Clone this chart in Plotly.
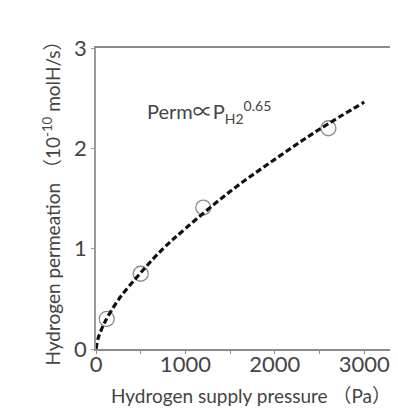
import plotly.graph_objects as go

# measured data points
pressure_pa = [120, 500, 1200, 2600]
permeation = [0.30, 0.75, 1.41, 2.20]

# dashed fit curve (Perm ∝ P^0.65)
fit_pressure = [0, 25, 50, 100, 250, 500, 750, 1000, 1500, 2000, 2500, 3000]
fit_perm = [0.0, 0.11, 0.17, 0.27, 0.49, 0.76, 1.00, 1.20, 1.57, 1.89, 2.19, 2.46]

x_tick_vals = [0, 1000, 2000, 3000]
x_tick_text = ["0", "1000", "2000", "3000"]
y_tick_vals = [0, 1, 2, 3]

FONT = "Lato, 'Noto Sans CJK JP', sans-serif"
TXT = "#444444"

fig = go.Figure()
fig.add_trace(go.Scatter(
    x=pressure_pa, y=permeation, mode="markers",
    marker=dict(symbol="circle-open", size=15, color="#8a8a8a", line=dict(width=1.3)),
    showlegend=False, cliponaxis=False,
))
fig.add_trace(go.Scatter(
    x=fit_pressure, y=fit_perm, mode="lines", line_shape="spline",
    line=dict(color="#111111", width=3.2, dash="6px,3px"),
    showlegend=False, cliponaxis=False,
))

fig.add_annotation(
    x=545, y=2.36, xanchor="left", yanchor="middle", showarrow=False,
    text="Perm∝P<sub>H2</sub><sup>0.65</sup>",
    font=dict(family=FONT, size=20, color=TXT),
)

fig.update_layout(
    width=398, height=414,
    margin=dict(l=88, r=0, t=40, b=72.5),
    paper_bgcolor="white", plot_bgcolor="white",
    font=dict(family=FONT, color=TXT),
)
fig.update_xaxes(
    range=[0, 3468], showgrid=False, zeroline=False,
    showline=True, linecolor="#8c8c8c", linewidth=2, mirror=True,
    tickvals=x_tick_vals, ticktext=x_tick_text,
    ticks="outside", ticklen=3, tickcolor="#8c8c8c", tickwidth=1,
    minor=dict(dtick=500, ticks="outside", ticklen=3, tickcolor="#8c8c8c", tickwidth=1),
    tickfont=dict(size=22, color=TXT), ticklabelstandoff=-8,
    title=dict(text="Hydrogen supply pressure （Pa）", font=dict(size=19, color=TXT), standoff=13),
)
fig.update_yaxes(
    range=[0, 3], showgrid=False, zeroline=False,
    showline=True, linecolor="#9a9a9a", linewidth=1.5,
    tickvals=y_tick_vals, ticks="outside", ticklen=3, tickcolor="#9a9a9a",
    tickfont=dict(size=22, color=TXT),
    title=dict(text="Hydrogen permeation （10<sup>-10</sup> molH/s）", font=dict(size=19, color=TXT), standoff=8),
)

fig.write_html("out.html")
